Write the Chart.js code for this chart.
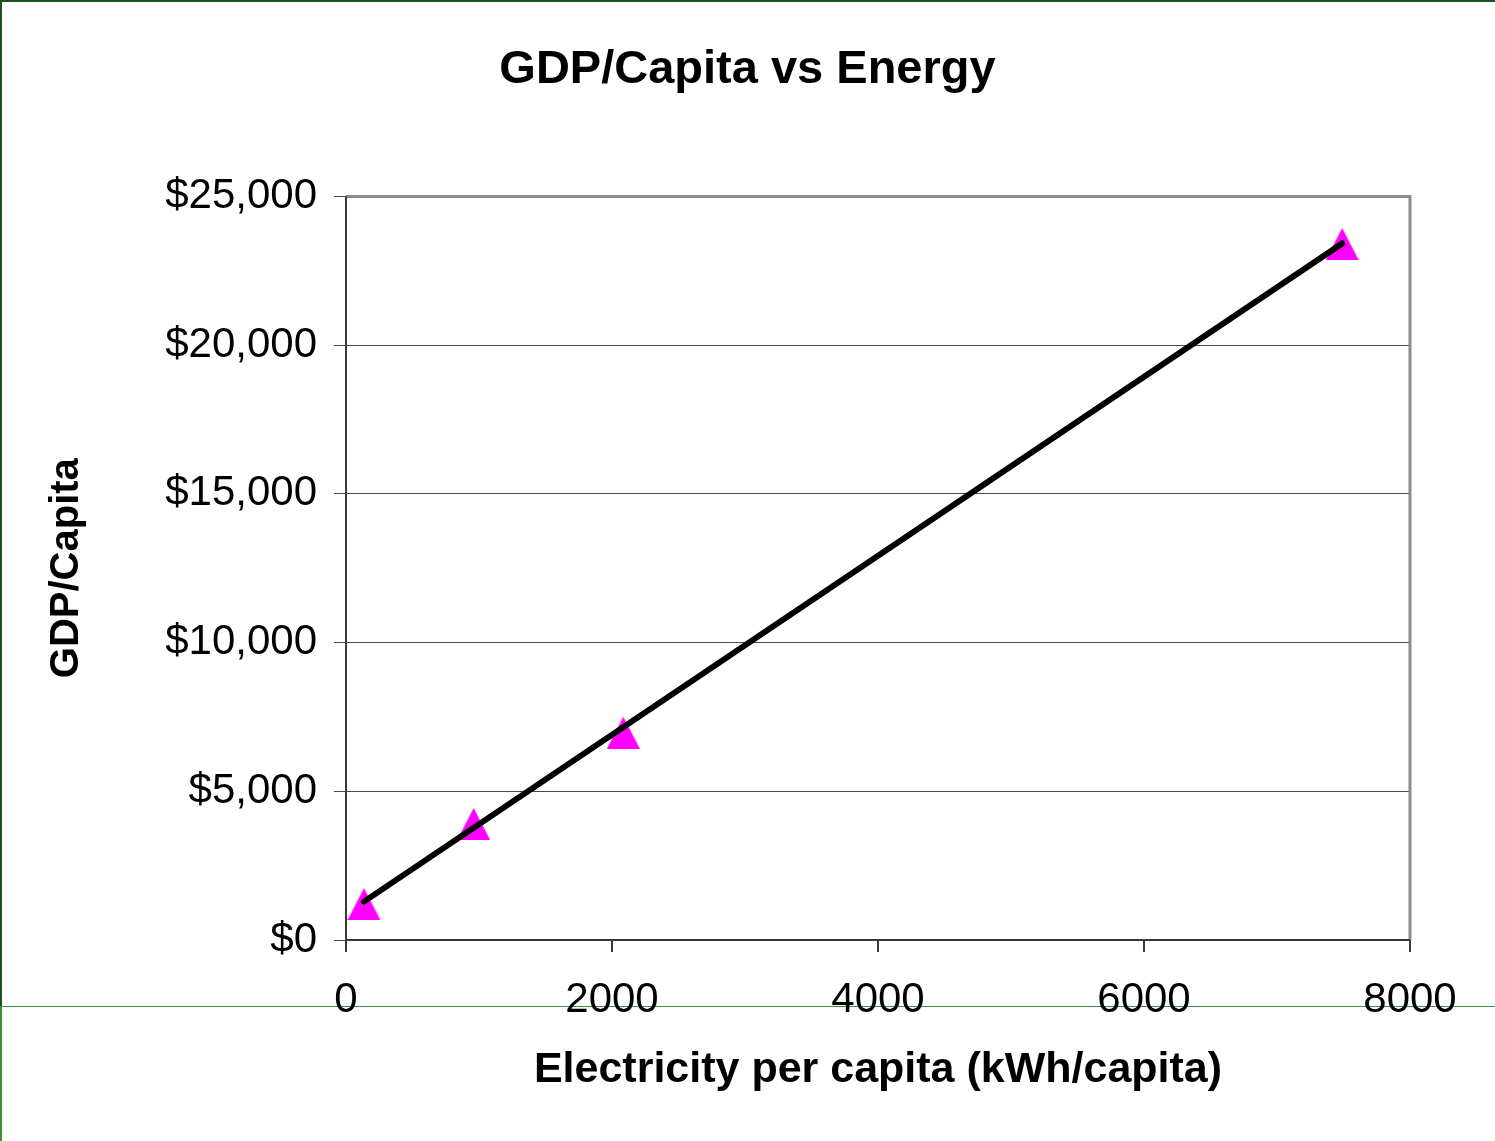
<!DOCTYPE html>
<html>
<head>
<meta charset="utf-8">
<title>GDP/Capita vs Energy</title>
<script src="https://cdn.jsdelivr.net/npm/chart.js@4/dist/chart.umd.min.js"></script>
<style>
  html, body { margin: 0; padding: 0; background: #fff; }
  #wrap { position: relative; width: 1495px; height: 1141px; overflow: hidden; }
  /* slide borders behind the chart */
  .line { position: absolute; z-index: 0; }
  #top-border { left: 0; top: 0; width: 1495px; height: 2px; background: #1e5220; }
  #left-border { left: 0; top: 0; width: 2px; height: 1007px; background: #1e5220; }
  #left-border-low { left: 0; top: 1007px; width: 2px; height: 134px; background: #3c9040; }
  #bottom-rule { left: 0; top: 1006px; width: 1495px; height: 1px; background: #3c9040; }
  #box { position: absolute; left: 0; top: 0; width: 1495px; height: 1141px; z-index: 1; }
</style>
</head>
<body>
<div id="wrap">
  <div class="line" id="top-border"></div>
  <div class="line" id="left-border"></div>
  <div class="line" id="left-border-low"></div>
  <div class="line" id="bottom-rule"></div>
  <div id="box"><canvas id="myChart"></canvas></div>
</div>
<script>
// Datos
const electricity = [135, 960, 2085, 7490];      // kWh/capita
const gdpPerCapita = [1210, 3900, 6970, 23400];  // $
const trendX = [135, 7490];
const trendY = [1290, 23420];
const xTicks = [0, 2000, 4000, 6000, 8000];
const yTicks = [0, 5000, 10000, 15000, 20000, 25000];

const FONT = "'Liberation Sans', Arial, Helvetica, sans-serif";

// Marcador triangular magenta (como en Excel)
function triangleMarker() {
  const c = document.createElement("canvas");
  c.width = 33;
  c.height = 32;
  const g = c.getContext("2d");
  g.fillStyle = "#ff00ff";
  g.beginPath();
  g.moveTo(16.5, 0);
  g.lineTo(33, 32);
  g.lineTo(0, 32);
  g.closePath();
  g.fill();
  return c;
}

// Marco del área de trazado: arriba y derecha en gris, ejes en gris oscuro
const plotFrame = {
  id: "plotFrame",
  afterDatasetsDraw(chart) {
    const { ctx, chartArea: a } = chart;
    ctx.save();
    ctx.strokeStyle = "#8c8c8c";
    ctx.lineWidth = 3;
    ctx.beginPath();
    ctx.moveTo(a.left, a.top);
    ctx.lineTo(a.right, a.top);
    ctx.lineTo(a.right, a.bottom);
    ctx.stroke();
    ctx.strokeStyle = "#3a3a3a";
    ctx.lineWidth = 2;
    ctx.beginPath();
    ctx.moveTo(a.left, a.top);
    ctx.lineTo(a.left, a.bottom);
    ctx.lineTo(a.right, a.bottom);
    ctx.stroke();
    ctx.restore();
  },
};

function setupChart() {
  const ctx = document.getElementById("myChart").getContext("2d");
  new Chart(ctx, {
    type: "scatter",
    data: {
      datasets: [
        {
          // línea de tendencia (índice 0 => se dibuja encima)
          type: "line",
          data: trendX.map((x, i) => ({ x, y: trendY[i] })),
          borderColor: "#000",
          borderWidth: 6,
          borderCapStyle: "round",
          pointRadius: 0,
          fill: false,
        },
        {
          data: electricity.map((x, i) => ({ x, y: gdpPerCapita[i] })),
          pointStyle: triangleMarker(),
          pointRadius: 16,
          backgroundColor: "#ff00ff",
          borderColor: "#ff00ff",
        },
      ],
    },
    options: {
      responsive: true,
      maintainAspectRatio: false,
      animation: false,
      layout: { padding: 0 },
      plugins: {
        legend: { display: false },
        tooltip: { enabled: false },
        title: {
          display: true,
          text: "GDP/Capita vs Energy",
          color: "#000",
          font: { family: FONT, size: 47, weight: "bold" },
          padding: { top: 42, bottom: 98 },
        },
      },
      scales: {
        x: {
          type: "linear",
          min: xTicks[0],
          max: xTicks[xTicks.length - 1],
          afterBuildTicks: (scale) => {
            scale.ticks = xTicks.map((v) => ({ value: v }));
          },
          afterFit: (scale) => { scale.height = 201; },
          border: { display: false },
          grid: {
            drawOnChartArea: false,
            drawTicks: true,
            tickLength: 12,
            color: "#3a3a3a",
            lineWidth: 2,
          },
          ticks: {
            color: "#000",
            padding: 23,
            maxRotation: 0,
            font: { family: FONT, size: 42 },
            callback: (v) => String(v),
          },
          title: {
            display: true,
            text: "Electricity per capita (kWh/capita)",
            color: "#000",
            font: { family: FONT, size: 43, weight: "bold" },
            padding: { top: 0, bottom: 45 },
          },
        },
        y: {
          type: "linear",
          min: yTicks[0],
          max: yTicks[yTicks.length - 1],
          afterBuildTicks: (scale) => {
            scale.ticks = yTicks.map((v) => ({ value: v }));
          },
          afterFit: (scale) => { scale.width = 346; },
          border: { display: false },
          grid: {
            drawOnChartArea: true,
            drawTicks: true,
            tickLength: 12,
            color: "#4a4a4a",
            lineWidth: 1,
          },
          ticks: {
            color: "#000",
            padding: 17,
            font: { family: FONT, size: 42 },
            callback: (v) => "$" + Number(v).toLocaleString("en-US"),
          },
          title: {
            display: true,
            text: "GDP/Capita",
            color: "#000",
            font: { family: FONT, size: 40, weight: "bold" },
            padding: { top: 43, bottom: 0 },
          },
        },
        // eje vacío a la derecha para reservar el margen sin descentrar el título
        yRight: {
          type: "linear",
          position: "right",
          display: true,
          min: yTicks[0],
          max: yTicks[yTicks.length - 1],
          afterFit: (scale) => { scale.width = 85; },
          border: { display: false },
          grid: { display: false },
          ticks: { display: false },
        },
      },
    },
    plugins: [plotFrame],
  });
}

document.addEventListener("DOMContentLoaded", setupChart);
</script>
</body>
</html>
